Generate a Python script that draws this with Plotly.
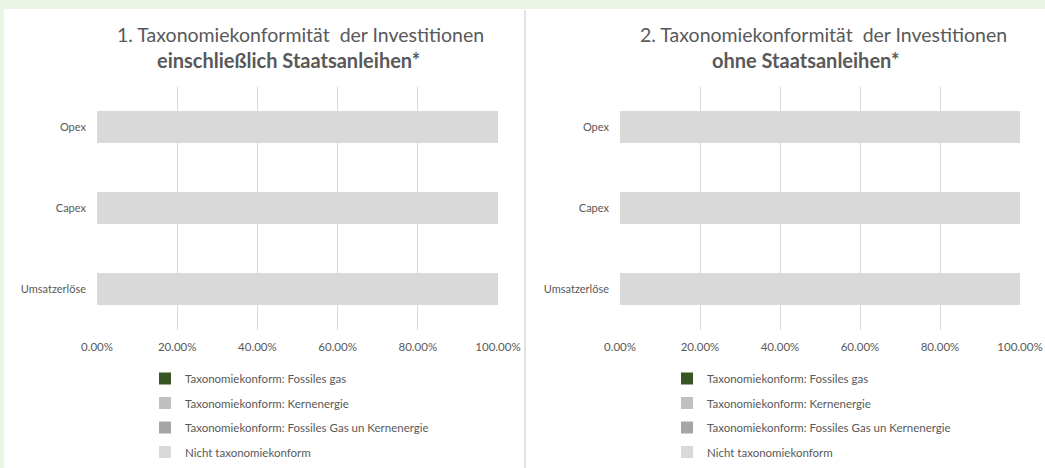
import plotly.graph_objects as go

W, H = 1045, 468

categories = ["Umsatzerlöse", "Capex", "Opex"]
series_names = [
    "Taxonomiekonform: Fossiles gas",
    "Taxonomiekonform: Kernenergie",
    "Taxonomiekonform: Fossiles Gas un Kernenergie",
    "Nicht taxonomiekonform",
]
series_colors = ["#375623", "#bfbfbf", "#a5a5a5", "#d9d9d9"]

# chart 1: einschließlich Staatsanleihen
values_incl = [
    [0.0, 0.0, 0.0],
    [0.0, 0.0, 0.0],
    [0.0, 0.0, 0.0],
    [1.0, 1.0, 1.0],
]
# chart 2: ohne Staatsanleihen
values_excl = [
    [0.0, 0.0, 0.0],
    [0.0, 0.0, 0.0],
    [0.0, 0.0, 0.0],
    [1.0, 1.0, 1.0],
]
x_ticks = [0, 0.2, 0.4, 0.6, 0.8, 1.0]
title1_line1 = "1. Taxonomiekonformität  der Investitionen"
title1_line2 = "einschließlich Staatsanleihen*"
title2_line1 = "2. Taxonomiekonformität  der Investitionen"
title2_line2 = "ohne Staatsanleihen*"

FONT = "Lato"
TXT = "#595959"

fig = go.Figure()

for i, (name, col) in enumerate(zip(series_names, series_colors)):
    fig.add_trace(go.Bar(
        y=categories, x=values_incl[i], name=name, orientation="h",
        marker=dict(color=col, line=dict(width=0)), width=0.39,
        xaxis="x", yaxis="y", legend="legend", legendgroup="a%d" % i,
    ))
for i, (name, col) in enumerate(zip(series_names, series_colors)):
    fig.add_trace(go.Bar(
        y=categories, x=values_excl[i], name=name, orientation="h",
        marker=dict(color=col, line=dict(width=0)), width=0.39,
        xaxis="x2", yaxis="y2", legend="legend2", legendgroup="b%d" % i,
    ))

def px(x):
    return x / W

def py(y):
    return 1 - y / H

xdom1 = [px(97), px(498)]
xdom2 = [px(620), px(1020)]
ydom = [py(329.5), py(86.5)]

xcommon = dict(range=[0, 1], tickvals=x_ticks, tickformat=".2%",
               showgrid=True, gridcolor="#d9d9d9", gridwidth=1,
               zeroline=False, showline=False, fixedrange=True,
               automargin=False,
               tickfont=dict(family=FONT, size=11.5, color=TXT),
               ticklabelstandoff=9)
ycommon = dict(showgrid=False, zeroline=False, showline=False,
               automargin=False,
               tickfont=dict(family=FONT, size=11, color=TXT),
               ticklabelstandoff=10, fixedrange=True,
               categoryorder="array", categoryarray=categories)

legcommon = dict(orientation="v", font=dict(family=FONT, size=11.5, color=TXT),
                 bgcolor="rgba(0,0,0,0)", traceorder="grouped",
                 tracegroupgap=5.5, xanchor="left", yanchor="top",
                 itemwidth=30)

def title_ann(text, x, y, size):
    return dict(text=text, x=px(x), y=py(y), xref="paper", yref="paper",
                xanchor="center", yanchor="middle", showarrow=False,
                font=dict(family=FONT, size=size, color=TXT))

fig.update_layout(
    width=W, height=H,
    margin=dict(l=0, r=0, t=0, b=0, autoexpand=False),
    paper_bgcolor="white", plot_bgcolor="white",
    barmode="stack", bargap=0.61,
    showlegend=True,
    xaxis=dict(domain=xdom1, anchor="y", **xcommon),
    yaxis=dict(domain=ydom, anchor="x", **ycommon),
    xaxis2=dict(domain=xdom2, anchor="y2", **xcommon),
    yaxis2=dict(domain=ydom, anchor="x2", **ycommon),
    legend=dict(x=px(145), y=py(364), **legcommon),
    legend2=dict(x=px(667), y=py(364), **legcommon),
    annotations=[
        title_ann(title1_line1, 300, 35, 19.5),
        title_ann("<b>" + title1_line2 + "</b>", 288, 60, 20),
        title_ann(title2_line1, 823, 35, 19.5),
        title_ann("<b>" + title2_line2 + "</b>", 805, 60, 20),
    ],
    shapes=[
        dict(type="rect", xref="paper", yref="paper", x0=0, x1=1, y0=py(9), y1=1,
             fillcolor="#ebf5e5", line=dict(width=0), layer="above"),
        dict(type="rect", xref="paper", yref="paper", x0=0, x1=px(4), y0=0, y1=1,
             fillcolor="#ebf5e5", line=dict(width=0), layer="above"),
        dict(type="line", xref="paper", yref="paper", x0=px(525), x1=px(525),
             y0=0, y1=py(10), line=dict(color="#d9d9d9", width=1.5)),
    ],
)

fig.write_html("out.html", config={"displayModeBar": False},
               post_script="document.body.style.margin='0';document.body.style.overflow='hidden';")
